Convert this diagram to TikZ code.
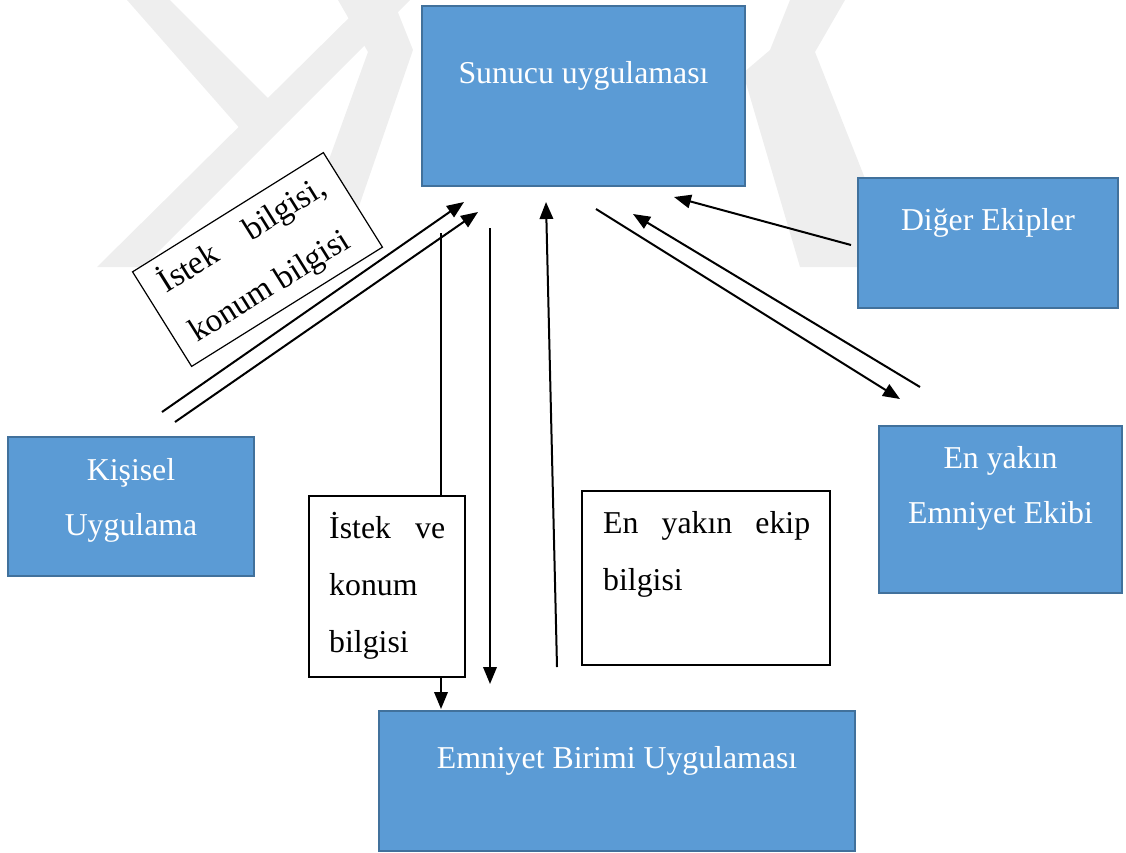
\documentclass[tikz,border=0pt]{standalone}
\usepackage{fontspec}
\setmainfont{Liberation Serif}
\usetikzlibrary{arrows.meta}
\definecolor{boxblue}{HTML}{5B9BD5}
\definecolor{boxedge}{HTML}{41719C}
\definecolor{wmark}{HTML}{EEEEEE}
\begin{document}
\begin{tikzpicture}[x=1pt,y=-1pt,
  bluebox/.style={draw=boxedge, fill=boxblue, line width=2pt, inner sep=0pt},
  notebox/.style={draw=black, fill=white, line width=1.2pt, inner sep=0pt},
  bluetext/.style={text=white, inner sep=0pt, font=\fontsize{31.8}{55}\selectfont},
  notetext/.style={text=black, inner sep=0pt, font=\fontsize{31.8}{57}\selectfont},
  link/.style={line width=2pt, -{Triangle[length=17pt,width=13.5pt]}}]
\useasboundingbox (0,0) rectangle (1126,852);

% faint background emblem
\fill[wmark] (127,0) -- (170,0) -- (290,120) -- (250,140) -- cycle;
\fill[wmark] (97,267) -- (143,267) -- (410,0) -- (367,0) -- cycle;
\fill[wmark] (393,0) -- (338,0) -- (368,52) -- (290,267) -- (338,267) -- (413,50) -- cycle;
\fill[wmark] (790,0) -- (845,0) -- (815,52) -- (900,267) -- (847,267) -- (800,267)
  -- (743,73) -- (770,50) -- cycle;

% end points of the connectors
\coordinate (pa1) at (162,412); \coordinate (sa1) at (464,202);
\coordinate (pa2) at (175,422); \coordinate (sa2) at (478,212);
\coordinate (sd1) at (441,233); \coordinate (ud1) at (441,709);
\coordinate (sd2) at (490,228); \coordinate (ud2) at (490,684);
\coordinate (uu)  at (557,667); \coordinate (su)  at (546,202);
\coordinate (oa)  at (851,245); \coordinate (so)  at (674,197);
\coordinate (sn)  at (596,209); \coordinate (ns)  at (900,399);
\coordinate (nr)  at (920,387); \coordinate (sr)  at (633,214);

% connectors
\draw[link] (pa1) -- (sa1);
\draw[link] (pa2) -- (sa2);
\draw[link] (sd1) -- (ud1);
\draw[link] (sd2) -- (ud2);
\draw[link] (uu) -- (su);
\draw[link] (oa) -- (so);
\draw[link] (sn) -- (ns);
\draw[link] (nr) -- (sr);

% application boxes
\node[bluebox, minimum width=323pt, minimum height=180pt] (srv)  at (583.5,96) {};
\node[bluebox, minimum width=260pt, minimum height=130pt] (oth)  at (988,243) {};
\node[bluebox, minimum width=243pt, minimum height=167pt] (near) at (1000.5,509.5) {};
\node[bluebox, minimum width=246pt, minimum height=139pt] (pers) at (131,506.5) {};
\node[bluebox, minimum width=476pt, minimum height=140pt] (unit) at (617,781) {};

\node[bluetext, anchor=base] (srvt)  at (583.5,83) {Sunucu uygulaması};
\node[bluetext, anchor=base] (otht)  at (988,230) {Diğer Ekipler};
\node[bluetext, anchor=base] (neart) at (1000.5,468) {\parbox[t]{240pt}{\centering En yakın\\Emniyet Ekibi}};
\node[bluetext, anchor=base] (perst) at (131,480) {\parbox[t]{240pt}{\centering Kişisel\\Uygulama}};
\node[bluetext, anchor=base] (unitt) at (617,768) {Emniyet Birimi Uygulaması};

% message boxes
\node[notebox, minimum width=156pt, minimum height=181pt] (msg1) at (387,586.5) {};
\node[notebox, minimum width=248pt, minimum height=174pt] (msg2) at (706,578) {};
\node[notetext, anchor=base west] (msg1t) at (329,538) {\parbox[t]{116pt}{İstek ve\linebreak konum\\bilgisi}};
\node[notetext, anchor=base west] (msg2t) at (603,533) {\parbox[t]{207pt}{En yakın ekip\linebreak bilgisi}};

\node[notebox, notetext, rotate=32, minimum width=225pt, minimum height=111.5pt] (tilt) at (257.5,259.5)
  {\parbox{190pt}{\fontsize{33}{58}\selectfont İstek bilgisi,\linebreak konum bilgisi}};
\end{tikzpicture}
\end{document}
